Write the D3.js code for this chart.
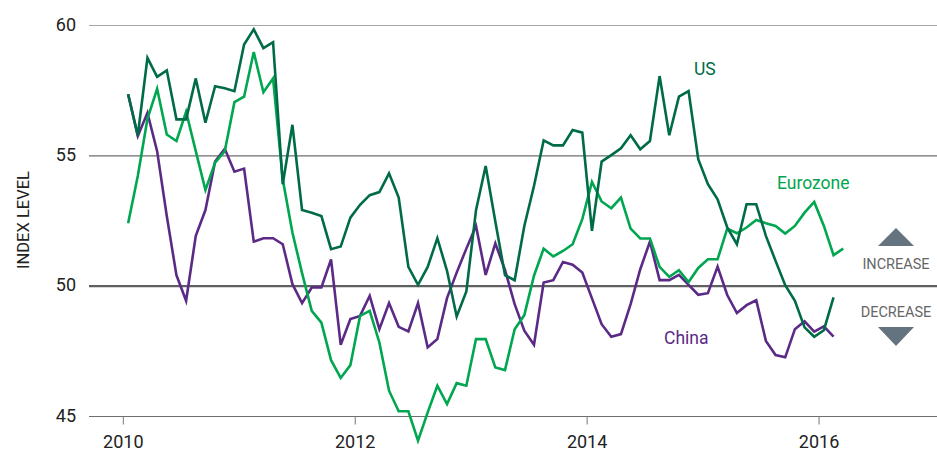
<!DOCTYPE html>
<html>
<head>
<meta charset="utf-8">
<script src="https://cdn.jsdelivr.net/npm/d3@7"></script>
<style>
body { margin: 0; background: #fff; }
text { font-family: Roboto, "Liberation Sans", sans-serif; }
</style>
</head>
<body>
<script>
// monthly index values, Jan 2010 onwards
var usValues = [57.36, 55.79, 58.76, 58.03, 58.28, 56.40, 56.40, 57.97, 56.27, 57.67,
    57.59, 57.48, 59.27, 59.85, 59.13, 59.36, 53.91, 56.19, 52.92, 52.82,
    52.69, 51.42, 51.52, 52.63, 53.12, 53.49, 53.61, 54.33, 53.40, 50.74,
    50.05, 50.74, 51.84, 50.59, 48.84, 49.80, 52.91, 54.61, 52.48, 50.42,
    50.23, 52.31, 53.84, 55.59, 55.40, 55.40, 55.99, 55.89, 52.12, 54.78,
    55.03, 55.29, 55.79, 55.25, 55.57, 58.06, 55.79, 57.27, 57.48, 54.87,
    53.91, 53.33, 52.25, 51.61, 53.14, 53.14, 51.93, 50.97, 50.04, 49.44,
    48.42, 48.06, 48.31, 49.57];

var euroValues = [52.41, 54.23, 56.42, 57.57, 55.82, 55.57, 56.69, 55.18, 53.69, 54.74,
    55.18, 57.06, 57.27, 58.98, 57.44, 57.97, 54.10, 52.06, 50.50, 49.05,
    48.60, 47.16, 46.48, 46.97, 48.86, 49.05, 47.84, 45.99, 45.20, 45.20,
    44.07, 45.16, 46.18, 45.48, 46.28, 46.18, 47.97, 47.97, 46.88, 46.78,
    48.35, 48.89, 50.40, 51.44, 51.14, 51.35, 51.61, 52.57, 54.00, 53.25,
    52.99, 53.40, 52.21, 51.83, 51.83, 50.74, 50.36, 50.61, 50.16, 50.70,
    51.03, 51.03, 52.21, 52.03, 52.25, 52.54, 52.41, 52.31, 52.02, 52.31,
    52.82, 53.23, 52.31, 51.19, 51.44];

var chinaValues = [57.36, 55.76, 56.65, 55.18, 52.69, 50.42, 49.44, 51.93, 52.92, 54.78,
    55.27, 54.39, 54.51, 51.71, 51.84, 51.84, 51.61, 50.08, 49.35, 49.95,
    49.95, 51.03, 47.75, 48.74, 48.86, 49.63, 48.35, 49.35, 48.44, 48.26,
    49.35, 47.65, 47.97, 49.54, 50.52, 51.44, 52.31, 50.43, 51.64, 50.62,
    49.31, 48.29, 47.75, 50.14, 50.23, 50.93, 50.82, 50.52, 49.53, 48.54,
    48.06, 48.16, 49.31, 50.65, 51.71, 50.23, 50.23, 50.43, 50.05, 49.67,
    49.73, 50.75, 49.66, 48.97, 49.27, 49.46, 47.90, 47.36, 47.27, 48.35,
    48.65, 48.26, 48.46, 48.06];

var yTicks = [45, 50, 55, 60];
var xTicks = [2010, 2012, 2014, 2016];
var startYear = 2010;

var width = 937, height = 451;

var svg = d3.select("body")
            .append("svg")
            .attr("width", width)
            .attr("height", height);

var x = d3.scaleLinear().domain([2010, 2017]).range([123.3, 935]);
var y = d3.scaleLinear().domain([45, 60]).range([416.5, 25.5]);

// grid lines
svg.selectAll("line.grid")
    .data(yTicks)
    .enter()
    .append("line")
    .attr("class", "grid")
    .attr("x1", 89)
    .attr("x2", width)
    .attr("y1", function(d) { return y(d); })
    .attr("y2", function(d) { return y(d); })
    .attr("stroke", function(d) {
        if (d == 50) return "#5f6062";
        if (d == 60) return "#a8a8a8";
        return "#6e6e6e";
    })
    .attr("stroke-width", function(d) { return d == 50 ? 2.2 : 1.1; });

svg.selectAll("text.ylab")
    .data(yTicks)
    .enter()
    .append("text")
    .attr("class", "ylab")
    .attr("x", 76)
    .attr("y", function(d) { return y(d) + 5; })
    .attr("text-anchor", "end")
    .attr("font-size", 18)
    .attr("fill", "#222")
    .text(function(d) { return d; });

// x ticks
svg.selectAll("line.xtick")
    .data(xTicks)
    .enter()
    .append("line")
    .attr("class", "xtick")
    .attr("x1", function(d) { return x(d); })
    .attr("x2", function(d) { return x(d); })
    .attr("y1", y(45))
    .attr("y2", y(45) + 8)
    .attr("stroke", "#777")
    .attr("stroke-width", 1);

svg.selectAll("text.xlab")
    .data(xTicks)
    .enter()
    .append("text")
    .attr("class", "xlab")
    .attr("x", function(d) { return x(d); })
    .attr("y", 448)
    .attr("text-anchor", "middle")
    .attr("font-size", 18)
    .attr("fill", "#222")
    .text(function(d) { return d; });

svg.append("text")
    .attr("transform", "translate(29,220) rotate(-90)")
    .attr("text-anchor", "middle")
    .attr("font-size", 16.5)
    .attr("fill", "#222")
    .text("INDEX LEVEL");

var line = d3.line()
    .x(function(d, i) { return x(startYear + (i + 0.5) / 12); })
    .y(function(d) { return y(d); });

var series = [
    {name: "China", values: chinaValues, color: "#5b2a86"},
    {name: "Eurozone", values: euroValues, color: "#00a650"},
    {name: "US", values: usValues, color: "#006b47"}
];

svg.selectAll("path.series")
    .data(series)
    .enter()
    .append("path")
    .attr("class", "series")
    .attr("d", function(d) { return line(d.values); })
    .attr("fill", "none")
    .attr("stroke", function(d) { return d.color; })
    .attr("stroke-width", 2.6)
    .attr("stroke-linejoin", "miter");

// series labels
svg.append("text").attr("x", 694).attr("y", 75).attr("font-size", 17.5)
    .attr("fill", "#006b47").text("US");
svg.append("text").attr("x", 777).attr("y", 189).attr("font-size", 17.5)
    .attr("fill", "#00a650").text("Eurozone");
svg.append("text").attr("x", 664).attr("y", 344).attr("font-size", 17.5)
    .attr("fill", "#5b2a86").text("China");

// increase / decrease markers
svg.append("path").attr("d", "M878,246 L896,228 L914,246 Z").attr("fill", "#65737e");
svg.append("path").attr("d", "M878,327 L896,346 L914,327 Z").attr("fill", "#65737e");
svg.append("text").attr("x", 896).attr("y", 269).attr("text-anchor", "middle")
    .attr("font-size", 14.5).attr("fill", "#666").text("INCREASE");
svg.append("text").attr("x", 896).attr("y", 317).attr("text-anchor", "middle")
    .attr("font-size", 14.5).attr("fill", "#666").text("DECREASE");
</script>
</body>
</html>
